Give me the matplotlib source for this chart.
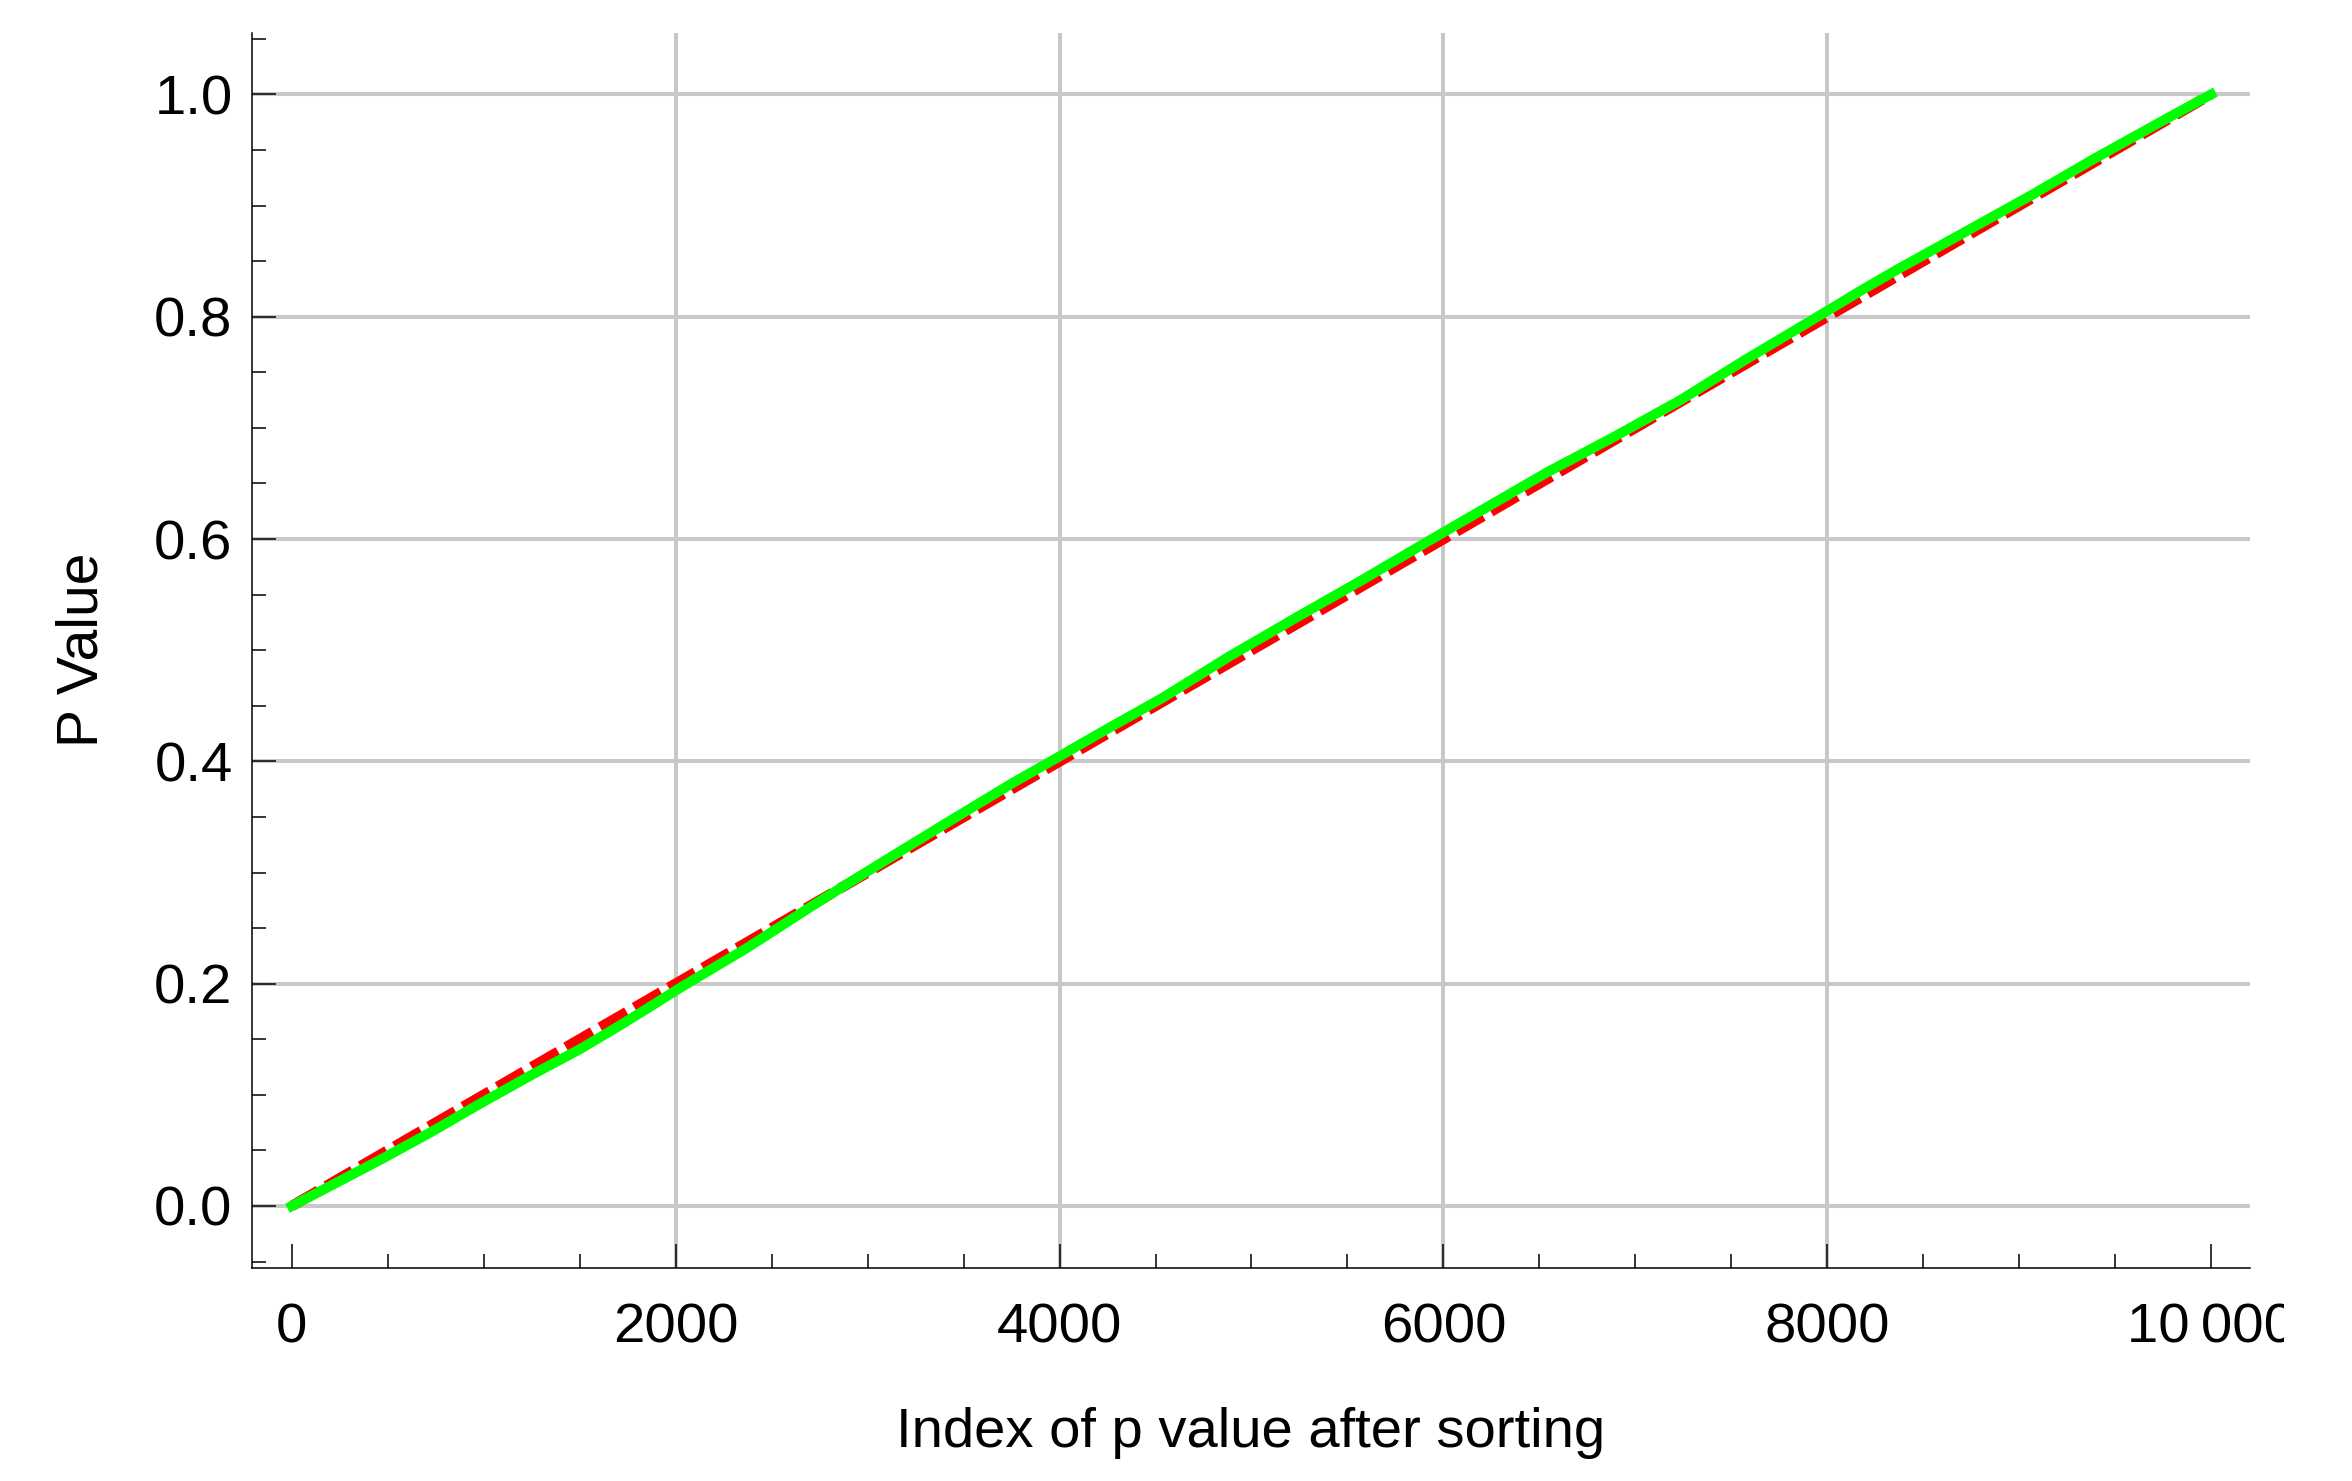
from matplotlib import pyplot as plt
from matplotlib.transforms import Bbox, TransformedBbox
from matplotlib.ticker import MultipleLocator

# sorted p values
idx = [0, 200, 460, 720, 980, 1250, 1500, 1700, 1850, 2020, 2370, 2720,
       3060, 3410, 3760, 4020, 4190, 4540, 4890, 5240, 5580, 5930, 6240,
       6540, 6890, 7230, 7580, 7930, 8190, 8360, 8710, 9060, 9400, 9750,
       10000]
pvals = [0.0, 0.018, 0.0415, 0.066, 0.092, 0.118, 0.141, 0.1615, 0.1775,
         0.196, 0.232, 0.271, 0.3075, 0.3445, 0.381, 0.4065, 0.4235, 0.4575,
         0.495, 0.530, 0.5635, 0.599, 0.630, 0.660, 0.692, 0.7245, 0.762,
         0.798, 0.825, 0.842, 0.8755, 0.909, 0.943, 0.9765, 1.0]

# uniform reference
ref_x = [0, 10000]
ref_y = [0.0, 1.0]

x_ticks = [0, 2000, 4000, 6000, 8000, 10000]
x_labels = ["0", "2000", "4000", "6000", "8000", "10\u2009000"]
y_ticks = [0.0, 0.2, 0.4, 0.6, 0.8, 1.0]
y_labels = ["0.0", "0.2", "0.4", "0.6", "0.8", "1.0"]

plt.rcParams["font.family"] = ["Liberation Sans", "DejaVu Sans"]

W, H = 2352, 1481
fig = plt.figure(figsize=(W / 100, H / 100), dpi=100)
ax = fig.add_axes([252 / W, 1 - 1268 / H, (2250 - 252) / W, (1268 - 33) / H])

ax.plot(ref_x, ref_y, color="#ff0000", lw=7.6, dashes=(2.9, 0.85),
        solid_capstyle="butt", dash_capstyle="butt", zorder=3)
ax.plot(idx, pvals, color="#00ff00", lw=7.2, zorder=4)

ax.set_xlim(-208, 10203)
ax.set_ylim(-0.0558, 1.0553)

ax.set_xticks(x_ticks, labels=x_labels)
ax.set_yticks(y_ticks, labels=y_labels)
ax.xaxis.set_minor_locator(MultipleLocator(500))
ax.yaxis.set_minor_locator(MultipleLocator(0.05))

ax.tick_params(which="both", direction="in", width=1.1, color="black",
               labelsize=40.5)
ax.tick_params(which="major", length=17)
ax.tick_params(which="minor", length=10)
ax.tick_params(axis="x", which="major", pad=25)
ax.tick_params(axis="y", which="major", pad=14)

ax.grid(True, which="major", color="#c8c8c8", lw=2.9)
ax.set_axisbelow(True)

for s in ["top", "right"]:
    ax.spines[s].set_visible(False)
for s in ["left", "bottom"]:
    ax.spines[s].set_linewidth(1.1)

xt = ax.xaxis.get_major_ticks()
# no vertical grid at the two end ticks
xt[0].gridline.set_visible(False)
xt[-1].gridline.set_visible(False)

# the last x label gets cut at the image edge in the original
clip = TransformedBbox(Bbox.from_extents(0, 0, 2284 / W, 1), fig.transFigure)
xt[-1].label1.set_clip_on(True)
xt[-1].label1.set_clip_box(clip)

fig.text(82 / W, 1 - 650 / H, "P Value", rotation=90, ha="center",
         va="center", fontsize=41)
fig.text(1251 / W, 1 - 1447 / H, "Index of p value after sorting",
         ha="center", va="baseline", fontsize=40.5)

fig.savefig("out.png", dpi=100)
